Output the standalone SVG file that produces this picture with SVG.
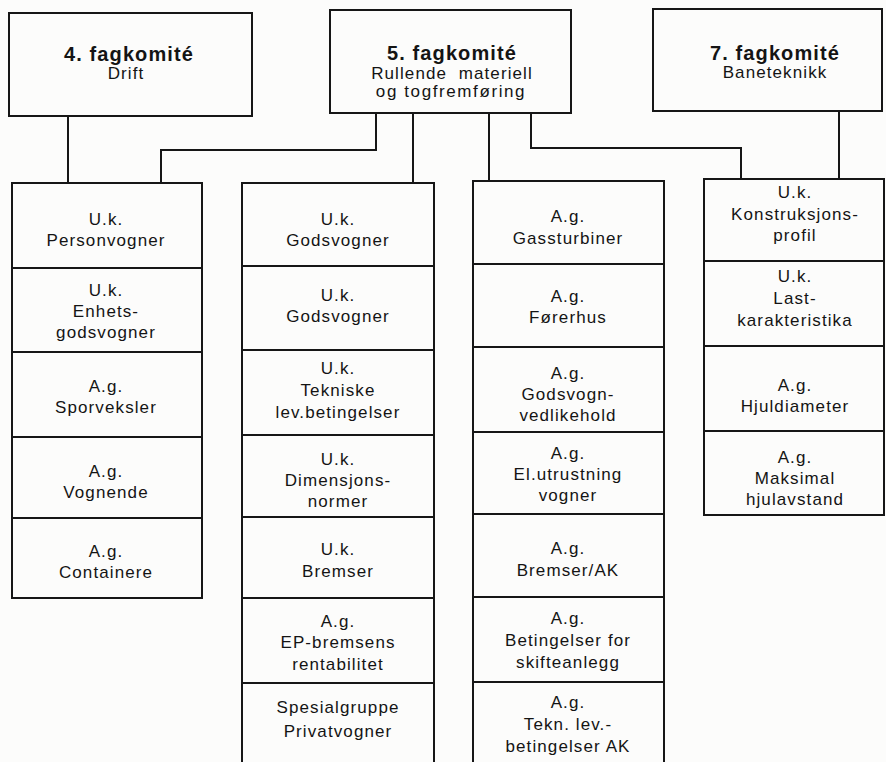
<svg xmlns="http://www.w3.org/2000/svg" width="886" height="762" viewBox="0 0 886 762">
<style>
  .bg{fill:#fcfcfb}
  .box{fill:#fcfcfb;stroke:#161616;stroke-width:2}
  .con{fill:none;stroke:#161616;stroke-width:2}
  text{font-family:"Liberation Sans",Arial,sans-serif;font-size:17px;fill:#141414;text-anchor:middle;letter-spacing:1.1px}
  .b{font-weight:bold;font-size:20px}
</style>
<rect class="bg" x="0" y="0" width="886" height="762"/>
<g id="connectors">
  <path class="con" d="M68,116 V183"/>
  <path class="con" d="M376,113 V150 H161 V183"/>
  <path class="con" d="M413,113 V183"/>
  <path class="con" d="M489,113 V181"/>
  <path class="con" d="M531,113 V148 H741 V179"/>
  <path class="con" d="M839,111 V179"/>
</g>
<g id="fk4"><rect class="box" x="9" y="13" width="243" height="103"/>
  <text x="129" y="61" class="b">4. fagkomité</text><text x="126" y="79">Drift</text></g>
<g id="fk5"><rect class="box" x="330" y="10" width="241" height="103"/>
  <text x="452" y="60" class="b">5. fagkomité</text><text x="452" y="79" xml:space="preserve">Rullende  materiell</text><text x="451" y="97" style="letter-spacing:1.6px">og togfremføring</text></g>
<g id="fk7"><rect class="box" x="653" y="9" width="229" height="102"/>
  <text x="775" y="60" class="b">7. fagkomité</text><text x="775" y="78">Baneteknikk</text></g>

<g id="c1r1"><rect class="box" x="12" y="183" width="190" height="85"/><text x="106" y="225">U.k.</text><text x="106" y="246">Personvogner</text></g>
<g id="c1r2"><rect class="box" x="12" y="268" width="190" height="84"/><text x="106" y="296">U.k.</text><text x="106" y="317">Enhets-</text><text x="106" y="338">godsvogner</text></g>
<g id="c1r3"><rect class="box" x="12" y="352" width="190" height="85"/><text x="106" y="392">A.g.</text><text x="106" y="413">Sporveksler</text></g>
<g id="c1r4"><rect class="box" x="12" y="437" width="190" height="81"/><text x="106" y="477">A.g.</text><text x="106" y="498">Vognende</text></g>
<g id="c1r5"><rect class="box" x="12" y="518" width="190" height="80"/><text x="106" y="557">A.g.</text><text x="106" y="578">Containere</text></g>

<g id="c2r1"><rect class="box" x="242" y="183" width="192" height="83"/><text x="338" y="225">U.k.</text><text x="338" y="246">Godsvogner</text></g>
<g id="c2r2"><rect class="box" x="242" y="266" width="192" height="84"/><text x="338" y="301">U.k.</text><text x="338" y="322">Godsvogner</text></g>
<g id="c2r3"><rect class="box" x="242" y="350" width="192" height="85"/><text x="338" y="374">U.k.</text><text x="338" y="396">Tekniske</text><text x="338" y="418">lev.betingelser</text></g>
<g id="c2r4"><rect class="box" x="242" y="435" width="192" height="82"/><text x="338" y="465">U.k.</text><text x="338" y="486">Dimensjons-</text><text x="338" y="507">normer</text></g>
<g id="c2r5"><rect class="box" x="242" y="517" width="192" height="81"/><text x="338" y="555">U.k.</text><text x="338" y="577">Bremser</text></g>
<g id="c2r6"><rect class="box" x="242" y="598" width="192" height="85"/><text x="338" y="627">A.g.</text><text x="338" y="648">EP-bremsens</text><text x="338" y="670">rentabilitet</text></g>
<g id="c2r7"><rect class="box" x="242" y="683" width="192" height="90"/><text x="338" y="713">Spesialgruppe</text><text x="338" y="737">Privatvogner</text></g>

<g id="c3r1"><rect class="box" x="473" y="181" width="191" height="83"/><text x="568" y="222">A.g.</text><text x="568" y="244">Gassturbiner</text></g>
<g id="c3r2"><rect class="box" x="473" y="264" width="191" height="83"/><text x="568" y="302">A.g.</text><text x="568" y="323">Førerhus</text></g>
<g id="c3r3"><rect class="box" x="473" y="347" width="191" height="85"/><text x="568" y="379">A.g.</text><text x="568" y="400">Godsvogn-</text><text x="568" y="421">vedlikehold</text></g>
<g id="c3r4"><rect class="box" x="473" y="432" width="191" height="82"/><text x="568" y="459">A.g.</text><text x="568" y="480">El.utrustning</text><text x="568" y="501">vogner</text></g>
<g id="c3r5"><rect class="box" x="473" y="514" width="191" height="83"/><text x="568" y="554">A.g.</text><text x="568" y="576">Bremser/AK</text></g>
<g id="c3r6"><rect class="box" x="473" y="597" width="191" height="85"/><text x="568" y="624">A.g.</text><text x="568" y="646">Betingelser for</text><text x="568" y="668">skifteanlegg</text></g>
<g id="c3r7"><rect class="box" x="473" y="682" width="191" height="90"/><text x="568" y="708">A.g.</text><text x="568" y="730">Tekn. lev.-</text><text x="568" y="752">betingelser AK</text></g>

<g id="c4r1"><rect class="box" x="704" y="179" width="180" height="82"/><text x="795" y="198">U.k.</text><text x="795" y="220">Konstruksjons-</text><text x="795" y="241">profil</text></g>
<g id="c4r2"><rect class="box" x="704" y="261" width="180" height="85"/><text x="795" y="282">U.k.</text><text x="795" y="304">Last-</text><text x="795" y="326">karakteristika</text></g>
<g id="c4r3"><rect class="box" x="704" y="346" width="180" height="85"/><text x="795" y="391">A.g.</text><text x="795" y="412">Hjuldiameter</text></g>
<g id="c4r4"><rect class="box" x="704" y="431" width="180" height="84"/><text x="795" y="463">A.g.</text><text x="795" y="484">Maksimal</text><text x="795" y="505">hjulavstand</text></g>
</svg>
